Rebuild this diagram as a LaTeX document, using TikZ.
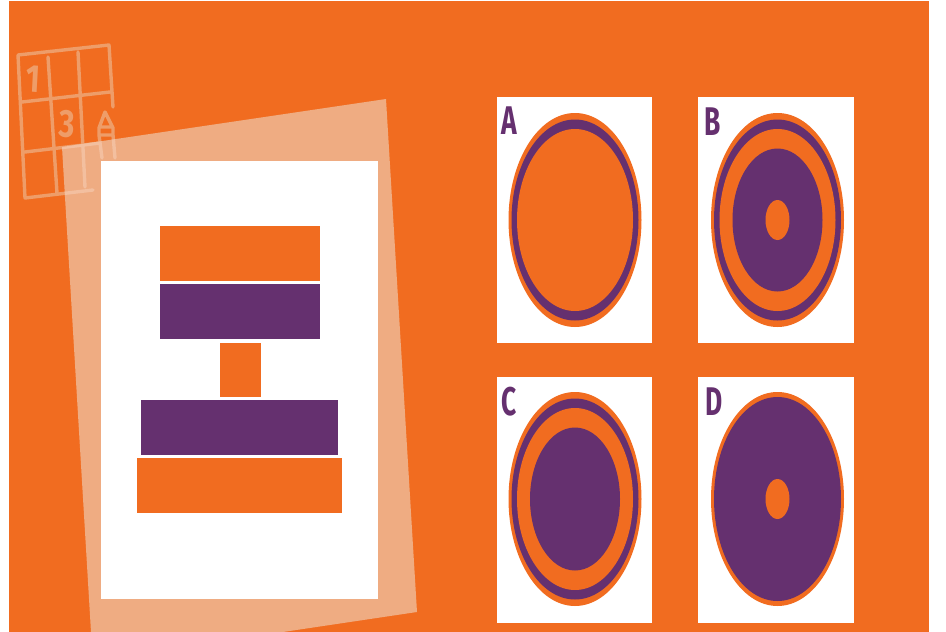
\documentclass[tikz,border=0pt]{standalone}
\usepackage{fontspec}
\setsansfont{Fira Sans}
\definecolor{bgorange}{HTML}{F16C20}
\definecolor{plum}{HTML}{65306F}
\definecolor{peach}{HTML}{EFAC82}
\definecolor{gridpeach}{HTML}{EE9D69}
\definecolor{gridpale}{HTML}{F3BF9F}
\tikzset{
  gridline/.style={draw=gridpeach,line width=3.4pt,line cap=round,line join=round},
  griddigit/.style={text=gridpeach,font=\sffamily\bfseries\fontsize{39}{39}\selectfont,inner sep=0pt,xscale=.78},
  card/.style={fill=white},
  cardletter/.style={text=plum,font=\sffamily\bfseries\fontsize{40}{40}\selectfont,inner sep=0pt,xscale=.66},
}
\newcommand{\gridpaths}{%
  (18,55) -- (109,45) -- (113,107)
  (18,55) -- (25,198) -- (93,190)
  (22,102) -- (110,92)
  (25,152) -- (100,143)
  (48,57) -- (57,193)
  (78,52) -- (85,187)
  (99,135) -- (99,128) -- (105,112) -- (113,128) -- (113,135) -- cycle
  (100,127) -- (112,127)
  (99,135) -- (102,158)
  (113,135) -- (115,158)
}
\newcommand{\target}[2]{%
  \fill[bgorange] (#1,#2) ellipse [x radius=66.5pt,y radius=107pt];
}
\newcommand{\ringshape}[2]{%
  \fill[plum] (#1,#2) ellipse [x radius=63.5pt,y radius=100.5pt];
  \fill[bgorange] (#1,#2) ellipse [x radius=58pt,y radius=91pt];
}
\newcommand{\discshape}[2]{%
  \fill[plum] (#1,#2) ellipse [x radius=45pt,y radius=71.5pt];
}
\newcommand{\holeshape}[2]{%
  \fill[bgorange] (#1,#2) ellipse [x radius=12pt,y radius=20pt];
}
\begin{document}
\begin{tikzpicture}[x=1pt,y=-1pt]
\useasboundingbox (0,0) rectangle (946,632);
\fill[white] (0,0) rectangle (946,632);
\fill[bgorange] (9,1) rectangle (929,632);
% sudoku sketch
\draw[gridline] \gridpaths;
\node[griddigit,rotate=-4] (digitone) at (33,79) {1};
\node[griddigit,rotate=-4] (digitthree) at (67,124) {3};
% tilted sheet
\fill[peach] (62,147) -- (386,99) -- (417,612) -- (283,632) -- (91,632) -- cycle;
\begin{scope}
\clip (62,147) -- (386,99) -- (417,612) -- (283,632) -- (91,632) -- cycle;
\draw[gridline,draw=gridpale] \gridpaths;
\end{scope}
\fill[white] (101,161) rectangle (378,599);
% stack
\fill[bgorange] (160,226) rectangle (320,281);
\fill[plum] (160,284) rectangle (320,339);
\fill[bgorange] (220,343) rectangle (261,397);
\fill[plum] (141,400) rectangle (338,455);
\fill[bgorange] (137,458) rectangle (342,513);
% cards
\fill[card] (497,97) rectangle (652,343);
\fill[card] (698,97) rectangle (854,343);
\fill[card] (497,377) rectangle (652,623);
\fill[card] (698,377) rectangle (854,623);
\target{575}{220}\ringshape{575}{220}
\target{777.5}{220}\ringshape{777.5}{220}\discshape{777.5}{220}\holeshape{777.5}{220}
\target{575}{499}\ringshape{575}{499}\discshape{575}{499}
\target{777.5}{499}
\fill[plum] (777.5,499) ellipse [x radius=63.5pt,y radius=102pt];
\holeshape{777.5}{499}
\node[cardletter] (la) at (509.5,121) {A};
\node[cardletter] (lb) at (712.5,121.5) {B};
\node[cardletter] (lc) at (509.5,401.5) {C};
\node[cardletter] (ld) at (714,402) {D};
\end{tikzpicture}
\end{document}
